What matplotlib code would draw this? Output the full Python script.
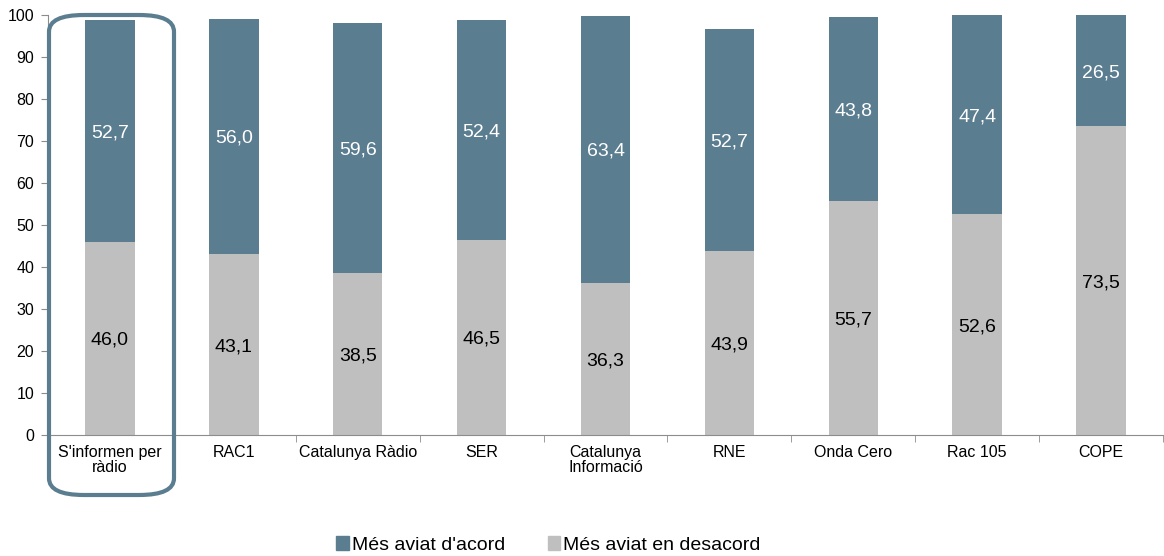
import numpy as np
import matplotlib.pyplot as plt
from matplotlib.patches import FancyBboxPatch, Patch

plt.rcParams["font.family"] = ["Liberation Sans", "DejaVu Sans"]

# Dades
categories = ["S'informen per\nràdio", "RAC1", "Catalunya Ràdio", "SER",
              "Catalunya\nInformació", "RNE", "Onda Cero", "Rac 105", "COPE"]
desacord = [46.0, 43.1, 38.5, 46.5, 36.3, 43.9, 55.7, 52.6, 73.5]
acord = [52.7, 56.0, 59.6, 52.4, 63.4, 52.7, 43.8, 47.4, 26.5]

color_acord = "#5B7D90"
color_desacord = "#BFBFBF"
color_eix = "#8C8C8C"

fig = plt.figure(figsize=(11.64, 5.56), dpi=100)
ax = fig.add_axes([0.0412, 0.2176, 0.958, 0.7554])

x = np.arange(len(categories))
w = 0.4
ax.bar(x, desacord, w, color=color_desacord, zorder=2)
ax.bar(x, acord, w, bottom=desacord, color=color_acord, zorder=2)

# etiquetes de valors
for i in range(len(x)):
    ax.text(x[i], desacord[i] / 2, f"{desacord[i]:.1f}".replace(".", ","),
            ha="center", va="center_baseline", fontsize=14, color="black")
    ax.text(x[i], desacord[i] + acord[i] / 2, f"{acord[i]:.1f}".replace(".", ","),
            ha="center", va="center_baseline", fontsize=14, color="white")

ax.set_xlim(-0.5, len(x) - 0.5)
ax.set_ylim(0, 100)
ax.set_yticks(np.arange(0, 101, 10))
ax.set_xticks(x)
ax.set_xticklabels(categories, fontsize=11.5, linespacing=1.05)
ax.set_xticks(np.arange(-0.5, len(x), 1), minor=True)
ax.tick_params(axis="x", which="major", length=0, pad=7)
ax.tick_params(axis="x", which="minor", length=5, color=color_eix)
ax.tick_params(axis="y", length=5, color=color_eix, labelsize=11.5, pad=5)

for s in ["top", "right"]:
    ax.spines[s].set_visible(False)
ax.spines["left"].set_color(color_eix)
ax.spines["bottom"].set_color(color_eix)

# marc arrodonit al voltant de la primera barra
box = FancyBboxPatch((49 / 1164, 1 - 495 / 556), (174 - 49) / 1164, (495 - 15) / 556,
                     boxstyle="round,pad=0,rounding_size=0.03",
                     transform=fig.transFigure, fill=False,
                     edgecolor=color_acord, linewidth=3, zorder=5)
fig.patches.append(box)

handles = [Patch(color=color_acord, label="Més aviat d'acord"),
           Patch(color=color_desacord, label="Més aviat en desacord")]
fig.legend(handles=handles, loc="center", bbox_to_anchor=(0.471, 0.02),
           ncol=2, frameon=False, fontsize=14, handlelength=0.65,
           handleheight=0.75, handletextpad=0.15, columnspacing=2.2)

fig.savefig("out.png", dpi=100)
